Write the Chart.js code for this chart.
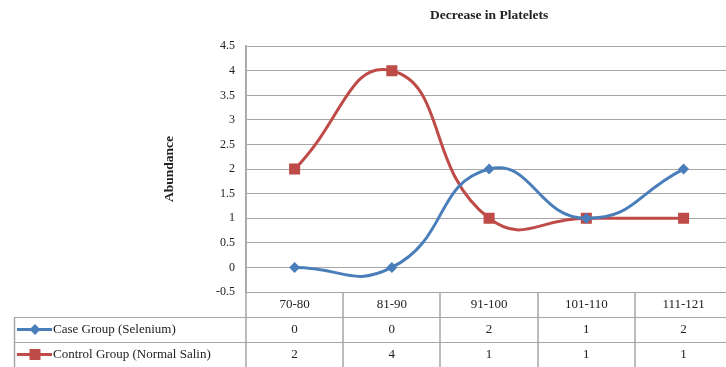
<!DOCTYPE html>
<html>
<head>
<meta charset="utf-8">
<script src="https://cdn.jsdelivr.net/npm/chart.js@4"></script>
<style>
  html, body { margin: 0; padding: 0; background: #fff; overflow: hidden; }
  #wrap { width: 740px; height: 367px; }
</style>
</head>
<body>
<div id="wrap"><canvas id="platelets-chart"></canvas></div>
<script>
// Chart data
const categories = ['70-80', '81-90', '91-100', '101-110', '111-121'];
const caseGroup = [0, 0, 2, 1, 2];
const controlGroup = [2, 4, 1, 1, 1];
const yTicks = [-0.5, 0, 0.5, 1, 1.5, 2, 2.5, 3, 3.5, 4, 4.5];

const seriesNames = ['Case Group (Selenium)', 'Control Group (Normal Salin)'];
const blue = '#4a7ebb';
const red = '#be4b48';
const gridColor = '#a6a6a6';
const fontFamily = '"Liberation Serif", "DejaVu Serif", serif';

// Draws the data table under the plot (like Excel's data table)
const dataTablePlugin = {
  id: 'dataTable',
  afterDraw(chart) {
    const ctx = chart.ctx;
    const area = chart.chartArea;
    const xs = chart.scales.x;
    const colW = (area.right - area.left) / categories.length;
    const rowH = 25;
    const tableLeft = 14;
    const rows = [area.bottom, area.bottom + rowH, area.bottom + rowH * 2, area.bottom + rowH * 3];

    ctx.save();
    ctx.strokeStyle = gridColor;
    ctx.lineWidth = 1;

    // horizontal lines
    ctx.beginPath();
    ctx.moveTo(area.left, Math.round(rows[0]) + 0.5);
    ctx.lineTo(chart.width, Math.round(rows[0]) + 0.5);
    for (let r = 1; r < rows.length; r++) {
      ctx.moveTo(tableLeft, Math.round(rows[r]) + 0.5);
      ctx.lineTo(chart.width, Math.round(rows[r]) + 0.5);
    }
    ctx.stroke();

    // vertical lines
    ctx.lineWidth = 1.5;
    ctx.beginPath();
    ctx.moveTo(tableLeft + 0.5, rows[1]);
    ctx.lineTo(tableLeft + 0.5, rows[3]);
    ctx.moveTo(area.left, area.top);
    ctx.lineTo(area.left, rows[3]);
    for (let i = 1; i < categories.length; i++) {
      const x = Math.round(area.left + colW * i);
      ctx.moveTo(x, rows[0]);
      ctx.lineTo(x, rows[3]);
    }
    ctx.stroke();

    // text
    ctx.fillStyle = '#222';
    ctx.font = '13px ' + fontFamily;
    ctx.textAlign = 'center';
    ctx.textBaseline = 'middle';
    const series = [caseGroup, controlGroup];
    categories.forEach((c, i) => {
      const cx = xs.getPixelForValue(i);
      ctx.fillText(c, cx, (rows[0] + rows[1]) / 2);
      series.forEach((s, k) => {
        ctx.fillText(String(s[i]), cx, (rows[k + 1] + rows[k + 2]) / 2);
      });
    });

    // legend keys
    const colors = [blue, red];
    seriesNames.forEach((name, k) => {
      const cy = (rows[k + 1] + rows[k + 2]) / 2;
      ctx.strokeStyle = colors[k];
      ctx.lineWidth = 3;
      ctx.beginPath();
      ctx.moveTo(17, cy);
      ctx.lineTo(52, cy);
      ctx.stroke();
      ctx.fillStyle = colors[k];
      ctx.beginPath();
      if (k === 0) {
        ctx.moveTo(35, cy - 5.5);
        ctx.lineTo(40.5, cy);
        ctx.lineTo(35, cy + 5.5);
        ctx.lineTo(29.5, cy);
        ctx.closePath();
      } else {
        ctx.rect(29.5, cy - 5.5, 11, 11);
      }
      ctx.fill();
      ctx.fillStyle = '#222';
      ctx.textAlign = 'left';
      ctx.fillText(name, 53, cy);
    });
    ctx.restore();
  }
};

const ctx = document.getElementById('platelets-chart').getContext('2d');

new Chart(ctx, {
  type: 'line',
  data: {
    labels: categories,
    datasets: [
      {
        label: seriesNames[0],
        data: caseGroup,
        borderColor: blue,
        backgroundColor: blue,
        borderWidth: 3,
        tension: 0.5,
        pointStyle: 'rectRot',
        pointRadius: 5.5,
        pointBorderWidth: 0
      },
      {
        label: seriesNames[1],
        data: controlGroup,
        borderColor: red,
        backgroundColor: red,
        borderWidth: 3,
        tension: 0.5,
        pointStyle: 'rect',
        pointRadius: 7.8,
        pointBorderWidth: 0
      }
    ]
  },
  options: {
    responsive: true,
    maintainAspectRatio: false,
    animation: false,
    layout: {
      padding: { left: 161, right: 2, bottom: 75, top: 0 }
    },
    plugins: {
      legend: { display: false },
      tooltip: { enabled: false },
      title: {
        display: true,
        text: 'Decrease in Platelets',
        fullSize: false,
        color: '#222',
        font: { family: fontFamily, size: 13.5, weight: 'bold' },
        padding: { top: 7, bottom: 23 }
      }
    },
    scales: {
      x: {
        type: 'category',
        offset: true,
        grid: { display: false },
        border: { display: false },
        ticks: { display: false },
        afterFit(scale) {
          scale.height = 0;
        }
      },
      y: {
        min: -0.5,
        max: 4.5,
        afterBuildTicks(scale) {
          scale.ticks = yTicks.map(v => ({ value: v }));
        },
        afterFit(scale) {
          scale.width = 85;
        },
        grid: { color: gridColor, drawTicks: false },
        border: { display: true, color: gridColor, width: 1.5 },
        ticks: {
          color: '#222',
          padding: 11,
          font: { family: fontFamily, size: 12 },
          callback: v => String(v)
        },
        title: {
          display: true,
          text: 'Abundance',
          color: '#222',
          padding: 0,
          font: { family: fontFamily, size: 13.5, weight: 'bold' }
        }
      }
    }
  },
  plugins: [dataTablePlugin]
});
</script>
</body>
</html>
